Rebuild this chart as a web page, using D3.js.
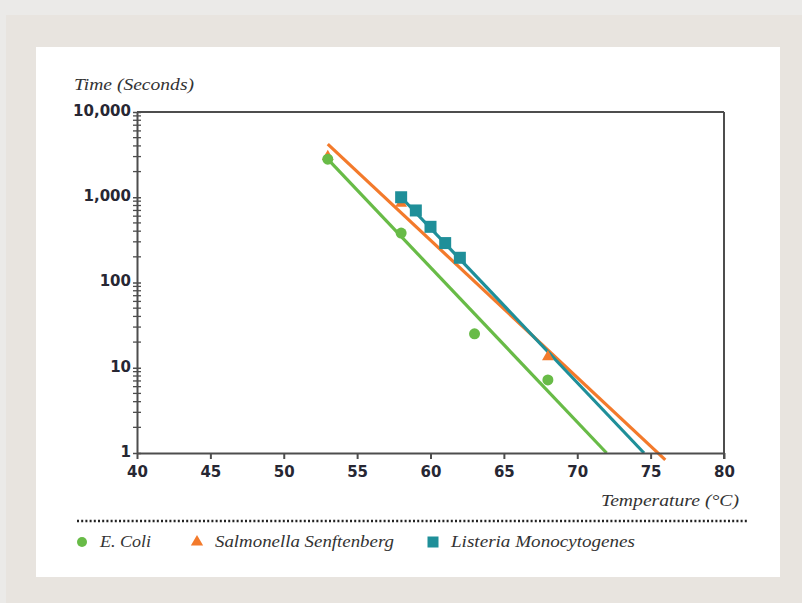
<!DOCTYPE html>
<html><head><meta charset="utf-8">
<script src="https://cdn.jsdelivr.net/npm/d3@7"></script>
<style>
html,body{margin:0;padding:0;background:#e8e4df;}
svg{display:block;}
</style></head>
<body>
<svg id="chart" width="802" height="603"></svg>
<script>
// ---- data ----
const xTicks = [40,45,50,55,60,65,70,75,80];
const yTicks = [1,10,100,1000,10000];
const yTickLabels = ["1","10","100","1,000","10,000"];

const ecoliTemp = [53,58,63,68];
const ecoliTime = [2800,380,25,7.2];
const salmTemp = [53,58,68];
const salmTime = [3000,850,13.4];
const listTemp = [58,59,60,61,62];
const listTime = [1000,700,450,290,195];

// fitted lines (endpoints)
const ecoliFitTemp = [53,72];
const ecoliFitTime = [2800,1];
const salmFitTemp = [53,76];
const salmFitTime = [4200,0.83];
const listFitTemp = [58,74.55];
const listFitTime = [1000,1];

const seriesNames = ["E. Coli","Salmonella Senftenberg","Listeria Monocytogenes"];
const colors = ["#68bb47","#f37a2b","#1f8f99"];

// ---- drawing ----
const svg = d3.select("#chart");
svg.append("rect").attr("x",0).attr("y",0).attr("width",802).attr("height",603).attr("fill","#e8e4df");
svg.append("rect").attr("x",0).attr("y",0).attr("width",802).attr("height",15).attr("fill","#ebeae8");
svg.append("rect").attr("x",0).attr("y",0).attr("width",6).attr("height",603).attr("fill","#ebeae8");
svg.append("rect").attr("x",36).attr("y",47).attr("width",744).attr("height",530).attr("fill","#ffffff");

const x = d3.scaleLinear().domain([40,80]).range([137,724]);
const y = d3.scaleLog().domain([1,10000]).range([453,112]);

const axisColor = "#4d4d4d";
const tickFont = "'DejaVu Sans', sans-serif";
const tickColor = "#272733";
const g = svg.append("g");

// fit lines
const fits = [
  [ecoliFitTemp, ecoliFitTime],
  [salmFitTemp, salmFitTime],
  [listFitTemp, listFitTime]
];
const line = d3.line().x(d=>x(d[0])).y(d=>y(d[1]));
[0,1,2].forEach(i=>{
  const pts = fits[i][0].map((t,k)=>[t, fits[i][1][k]]);
  g.append("path").attr("d",line(pts)).attr("fill","none")
    .attr("stroke",colors[i]).attr("stroke-width",3.2);
});

// frame
g.append("line").attr("x1",x(40)).attr("x2",x(80)).attr("y1",y(10000)).attr("y2",y(10000)).attr("stroke",axisColor).attr("stroke-width",2);
g.append("line").attr("x1",x(80)).attr("x2",x(80)).attr("y1",y(10000)).attr("y2",y(1)+6).attr("stroke",axisColor).attr("stroke-width",2);

// x axis
const xAxis = d3.axisBottom(x).tickValues(xTicks).tickSize(6).tickSizeOuter(0).tickPadding(7).tickFormat(d3.format("d"));
const gx = g.append("g").attr("transform",`translate(0,${y(1)})`).call(xAxis);
gx.select(".domain").attr("stroke",axisColor).attr("stroke-width",2);
gx.selectAll(".tick line").attr("stroke",axisColor).attr("stroke-width",2);
gx.selectAll(".tick text").attr("font-family",tickFont).attr("font-weight","bold")
  .attr("font-size",15).attr("fill",tickColor);

// y axis minor ticks (crossing)
const minor = [];
for (let p=0;p<4;p++) for (let m=2;m<=9;m++) minor.push(m*Math.pow(10,p));
g.selectAll(".minor").data(minor).enter().append("line")
  .attr("x1",x(40)-4).attr("x2",x(40)+4).attr("y1",d=>y(d)).attr("y2",d=>y(d))
  .attr("stroke",axisColor).attr("stroke-width",1.3);

const yAxis = d3.axisLeft(y).tickValues(yTicks).tickSize(4).tickSizeOuter(0).tickPadding(2)
  .tickFormat((d,i)=>yTickLabels[i]);
const gy = g.append("g").attr("transform",`translate(${x(40)},0)`).call(yAxis);
gy.select(".domain").attr("stroke",axisColor).attr("stroke-width",2);
gy.selectAll(".tick line").attr("stroke",axisColor).attr("stroke-width",1.5).attr("x2",-4).attr("x1",4);
gy.selectAll(".tick text").attr("font-family",tickFont).attr("font-weight","bold")
  .attr("font-size",15).attr("fill",tickColor).attr("dy","0.22em");

// points
g.selectAll(".salm").data(salmTemp.map((t,i)=>[t,salmTime[i]])).enter().append("path")
  .attr("d",d3.symbol().type(d3.symbolTriangle).size(60)())
  .attr("transform",d=>`translate(${x(d[0])},${y(d[1])})`).attr("fill",colors[1]);
g.selectAll(".ecoli").data(ecoliTemp.map((t,i)=>[t,ecoliTime[i]])).enter().append("circle")
  .attr("cx",d=>x(d[0])).attr("cy",d=>y(d[1])).attr("r",5.5).attr("fill",colors[0]);
g.selectAll(".list").data(listTemp.map((t,i)=>[t,listTime[i]])).enter().append("rect")
  .attr("x",d=>x(d[0])-6).attr("y",d=>y(d[1])-6).attr("width",12).attr("height",12).attr("fill",colors[2]);

// axis titles
const serif = "'Liberation Serif', 'DejaVu Serif', serif";
svg.append("text").attr("x",74).attr("y",90).text("Time (Seconds)")
  .attr("textLength",120).attr("lengthAdjust","spacingAndGlyphs")
  .attr("font-family",serif).attr("font-style","italic").attr("font-size",17).attr("fill","#333");
svg.append("text").attr("x",739).attr("y",506).attr("text-anchor","end").text("Temperature (°C)")
  .attr("textLength",138).attr("lengthAdjust","spacingAndGlyphs")
  .attr("font-family",serif).attr("font-style","italic").attr("font-size",17).attr("fill","#333");

// dotted separator
svg.append("line").attr("x1",77).attr("x2",748).attr("y1",521).attr("y2",521)
  .attr("stroke","#222").attr("stroke-width",2.5).attr("stroke-dasharray","2,2.2");

// legend
const lg = svg.append("g");
const legX = [82, 197, 433];
const legLen = [51, 179, 184];
const legY = 542;
lg.append("circle").attr("cx",legX[0]).attr("cy",legY).attr("r",5).attr("fill",colors[0]);
lg.append("path").attr("d",d3.symbol().type(d3.symbolTriangle).size(65)())
  .attr("transform",`translate(${legX[1]},${legY})`).attr("fill",colors[1]);
lg.append("rect").attr("x",legX[2]-5.5).attr("y",legY-5.5).attr("width",11).attr("height",11).attr("fill",colors[2]);
seriesNames.forEach((n,i)=>{
  lg.append("text").attr("x",legX[i]+18).attr("y",legY+5).text(n)
    .attr("textLength",legLen[i]).attr("lengthAdjust","spacingAndGlyphs")
    .attr("font-family",serif).attr("font-style","italic").attr("font-size",17).attr("fill","#333");
});
</script>
</body></html>
